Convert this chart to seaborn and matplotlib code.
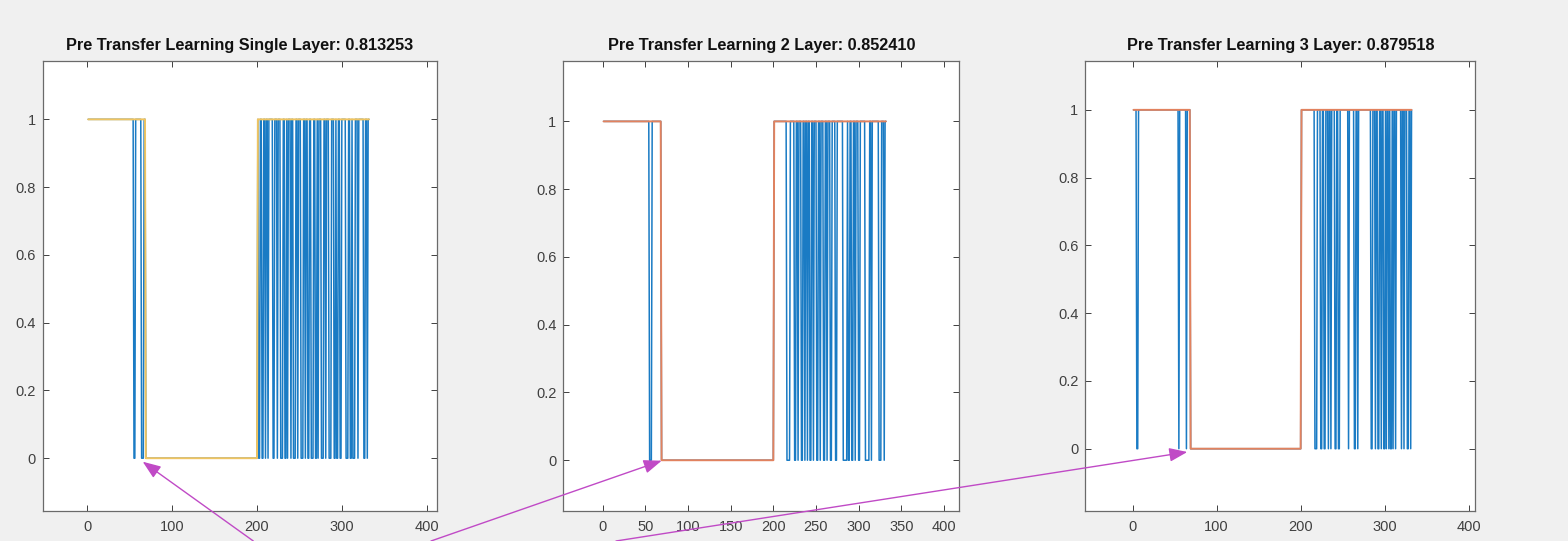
import matplotlib
matplotlib.use("Agg")
import numpy as np
import pandas as pd
import seaborn as sns
import matplotlib.pyplot as plt
from matplotlib.patches import FancyArrowPatch

# ---------------- data ----------------
n_samples = 332
run_class1_a = 68    # true label 1 for samples 1..68
run_class0 = 132     # true label 0 for samples 69..200
run_class1_b = 132   # true label 1 for samples 201..332

titles = [
    "Pre Transfer Learning Single Layer: 0.813253",
    "Pre Transfer Learning 2 Layer: 0.852410",
    "Pre Transfer Learning 3 Layer: 0.879518",
]

# misclassified runs: (first sample, run length)
wrong_runs_single = [(55, 2), (64, 3),
                     (202, 2), (206, 2), (210, 1), (213, 1), (219, 2), (224, 1),
                     (228, 3), (233, 2), (236, 1), (240, 1), (243, 3), (248, 1),
                     (252, 3), (257, 1), (260, 2), (264, 3), (269, 2), (272, 1),
                     (276, 3), (281, 1), (285, 3), (291, 2), (294, 2), (298, 2),
                     (305, 3), (310, 2), (313, 3), (319, 1), (326, 2), (330, 1)]
wrong_runs_two = [(55, 3),
                  (216, 4), (225, 2), (229, 1), (233, 2), (237, 1), (240, 1),
                  (243, 2), (247, 1), (251, 2), (255, 1), (259, 2), (263, 1),
                  (267, 2), (273, 2), (282, 5), (288, 2), (292, 2), (296, 1),
                  (300, 2), (308, 5), (315, 1), (324, 3), (330, 1)]
wrong_runs_three = [(5, 2), (55, 1), (64, 1),
                    (217, 3), (224, 2), (228, 2), (233, 1), (236, 1), (241, 2),
                    (245, 2), (257, 1), (264, 2), (268, 1), (284, 2), (289, 1),
                    (292, 2), (296, 1), (299, 2), (302, 1), (305, 1), (307, 2),
                    (310, 1), (313, 1), (320, 1), (323, 1), (327, 2), (331, 1)]

x_ticks = [[0, 100, 200, 300, 400],
           [0, 50, 100, 150, 200, 250, 300, 350, 400],
           [0, 100, 200, 300, 400]]
y_ticks = [0, 0.2, 0.4, 0.6, 0.8, 1]
y_tick_labels = ["0", "0.2", "0.4", "0.6", "0.8", "1"]

# ---------------- styling ----------------
sns.set_style("white")
plt.rcParams["font.family"] = ["Liberation Sans", "DejaVu Sans"]

pred_color = "#1A7BC4"
true_colors = ["#F0C460", "#E2825E", "#E2825E"]
arrow_color = "#C04AC6"

W, H = 1568, 541
fig = plt.figure(figsize=(W / 100, H / 100), dpi=100)
fig.patch.set_facecolor("#F0F0F0")

ax_left_px = [42.7, 563.3, 1085.3]
ax_width_px = [394.0, 396.0, 390.0]
ax_top_px, ax_bottom_px = 61.4, 511.4
xlims = [(-52.6, 411.8), (-46.2, 418.0), (-56.4, 407.9)]
ylims = [(-0.157, 1.171), (-0.151, 1.177), (-0.185, 1.143)]

sample_idx = np.arange(1, n_samples + 1)
true_labels = np.array([1] * run_class1_a + [0] * run_class0 + [1] * run_class1_b)
wrong_lists = [wrong_runs_single, wrong_runs_two, wrong_runs_three]

for i in range(3):
    ax = fig.add_axes([ax_left_px[i] / W, 1 - ax_bottom_px / H,
                       ax_width_px[i] / W, (ax_bottom_px - ax_top_px) / H])
    ax.set_facecolor("white")
    pred = true_labels.copy()
    for start, length in wrong_lists[i]:
        sl = slice(start - 1, start - 1 + length)
        pred[sl] = 1 - true_labels[sl]
    df = pd.DataFrame({"sample": sample_idx, "pred": pred, "true": true_labels})
    sns.lineplot(data=df, x="sample", y="pred", ax=ax, color=pred_color,
                 linewidth=1.1, estimator=None, sort=False)
    sns.lineplot(data=df, x="sample", y="true", ax=ax, color=true_colors[i],
                 linewidth=1.4, estimator=None, sort=False)
    ax.set_xlim(*xlims[i])
    ax.set_ylim(*ylims[i])
    ax.set_xticks(x_ticks[i])
    ax.set_xticklabels([str(t) for t in x_ticks[i]])
    ax.set_yticks(y_ticks)
    ax.set_yticklabels(y_tick_labels)
    ax.set_xlabel("")
    ax.set_ylabel("")
    ax.tick_params(direction="in", length=4.5, width=0.7, colors="#404040",
                   labelcolor="#404040", labelsize=10.5, top=True, right=True,
                   bottom=True, left=True)
    ax.tick_params(axis="x", pad=6)
    ax.tick_params(axis="y", pad=5)
    for sp in ax.spines.values():
        sp.set_color("#6A6A6A")
        sp.set_linewidth(0.9)
        sp.set_visible(True)
    ax.set_title(titles[i], fontsize=11.7, fontweight="bold", color="#111111", pad=8)


def px(x, y):
    return (x / W, 1 - y / H)


arrows = [((253.3, 541), (142.7, 461.7)),
          ((431.0, 541), (661.7, 460.7)),
          ((616.0, 541), (1187.3, 452.0))]
for (tail, tip) in arrows:
    arr = FancyArrowPatch(px(*tail), px(*tip), transform=fig.transFigure,
                          arrowstyle="-|>,head_length=1.1,head_width=0.42",
                          mutation_scale=10, color=arrow_color, linewidth=1.0,
                          shrinkA=0, shrinkB=0)
    fig.add_artist(arr)

fig.savefig("out.png", dpi=100, facecolor=fig.get_facecolor())
